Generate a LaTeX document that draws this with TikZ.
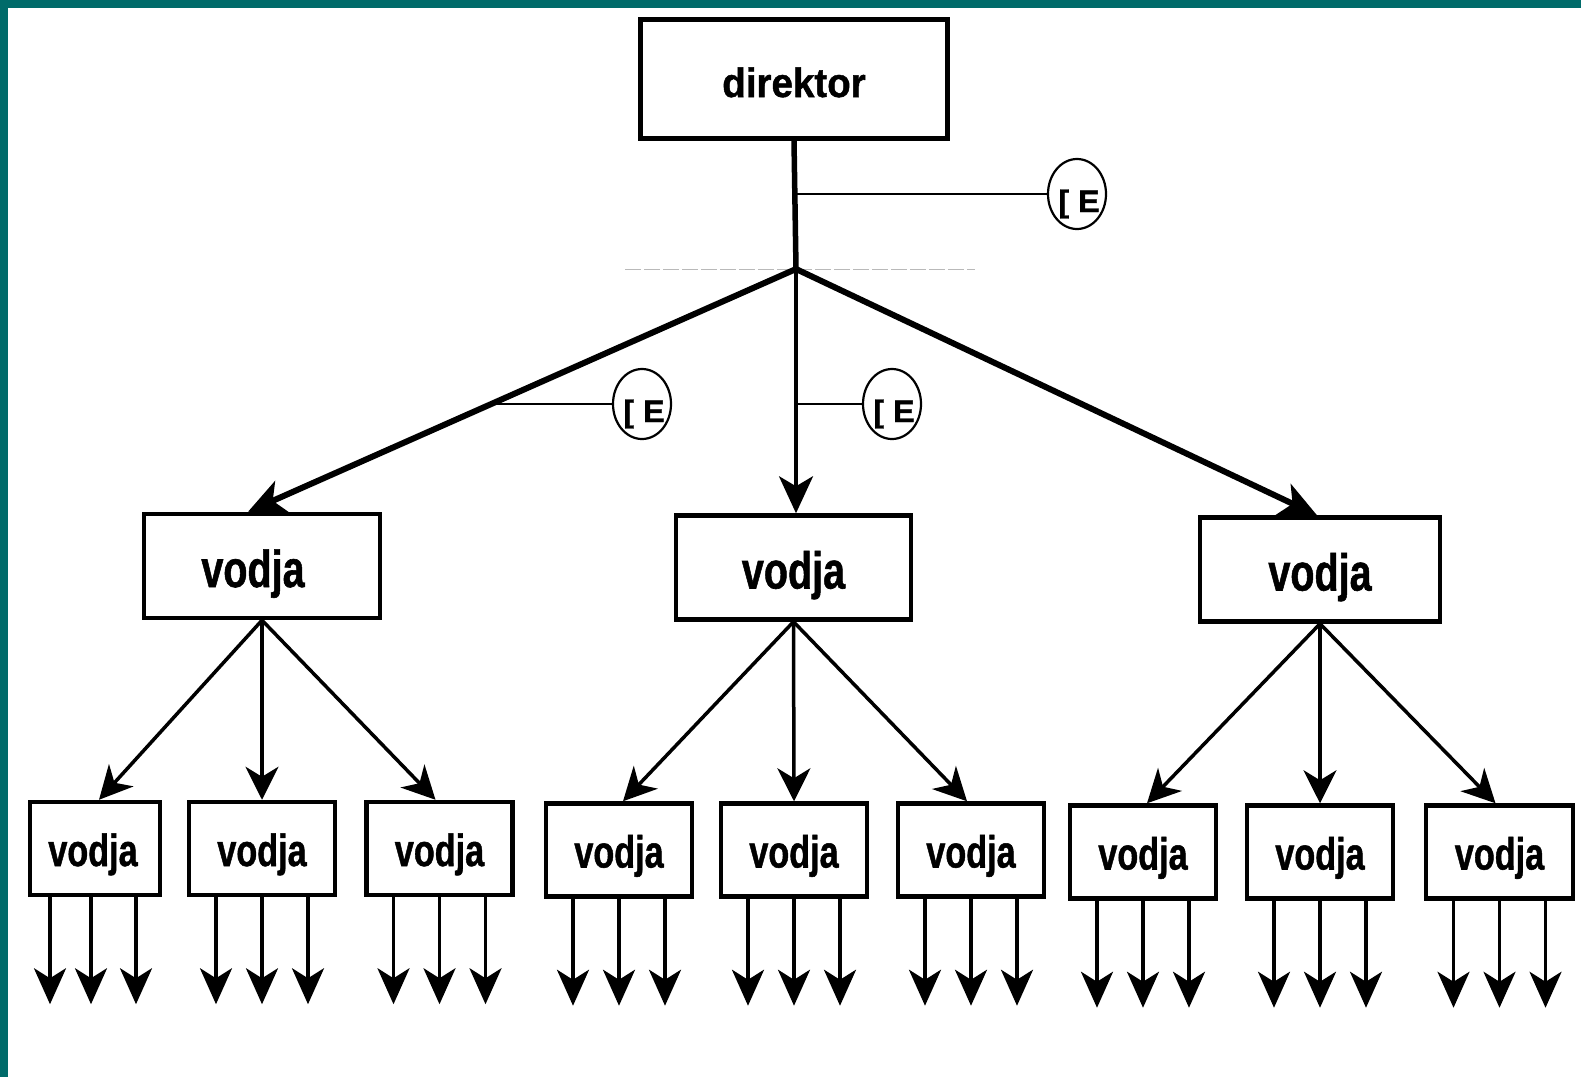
\documentclass[tikz,border=0pt]{standalone}
\usepackage{fontspec}
\setmainfont{Liberation Sans}
\newfontfamily\heavy[FakeBold=1.2]{Liberation Sans Bold}
\usepackage{graphicx}
\usetikzlibrary{arrows.meta,calc,shapes.geometric}
\definecolor{teal0}{RGB}{0,107,106}
% #1 x-scale, #2 size, #3 text, #4 baseline shift, #5 doubled horizontal shift
\newcommand{\sqtxt}[5]{\makebox[0pt]{\kern#5\raisebox{#4}[0pt][0pt]{\scalebox{#1}[1]{\fontsize{#2}{#2}\selectfont\heavy #3}}}}
\begin{document}
\begin{tikzpicture}[x=1pt,y=-1pt,
  box/.style={draw,line width=4.5pt,rectangle,inner sep=0pt},
  midbox/.style={box,minimum height=104pt},
  smallbox/.style={box,minimum height=93pt,minimum width=146pt},
  ebox/.style={draw,ellipse,line width=2.2pt,minimum width=58pt,minimum height=70pt,inner sep=0pt},
  toparr/.style={line width=6pt,-{Stealth[length=37pt,width=34pt,inset=10pt]}},
  midarr/.style={line width=3.5pt,-{Stealth[length=33pt,width=33pt,inset=10pt]}},
  botarr/.style={line width=3.5pt,-{Stealth[length=36pt,width=32pt,inset=10pt]}},
  branch/.style={line width=2.5pt}
]
\fill[teal0] (0,0) rectangle (1581,1077);
\fill[white] (8,8) rectangle (1581,1077);
\useasboundingbox (0,0) rectangle (1581,1077);

% director
\node[box,line width=5pt,minimum width=307pt,minimum height=119pt] (dir) at (794,79) {\sqtxt{0.94}{41}{direktor}{-18pt}{0pt}};

% E labels
\node[ebox] (e0) at (1077,194) {\sqtxt{1.04}{31}{[ E}{-18pt}{4pt}};
\node[ebox] (e1) at (642,404) {\sqtxt{1.04}{31}{[ E}{-18pt}{4pt}};
\node[ebox] (e2) at (892,404) {\sqtxt{1.04}{31}{[ E}{-18pt}{4pt}};

% middle level
\node[midbox,minimum width=236pt] (m1) at (262,566) {\sqtxt{0.76}{52}{vodja}{-21pt}{-18pt}};
\node[midbox,minimum width=235pt] (m2) at (793.5,567.5) {\sqtxt{0.76}{52}{vodja}{-21pt}{0pt}};
\node[midbox,minimum width=240pt] (m3) at (1320,569.5) {\sqtxt{0.76}{52}{vodja}{-21pt}{0pt}};

% bottom level
\node[smallbox,minimum width=130pt] (b1) at (95,848.5) {\sqtxt{0.76}{45}{vodja}{-17.5pt}{-4pt}};
\node[smallbox] (b2) at (262,848.5) {\sqtxt{0.76}{45}{vodja}{-17.5pt}{0pt}};
\node[smallbox] (b3) at (439.5,848.5) {\sqtxt{0.76}{45}{vodja}{-17.5pt}{0pt}};
\node[smallbox] (b4) at (619,850) {\sqtxt{0.76}{45}{vodja}{-17.5pt}{0pt}};
\node[smallbox] (b5) at (794,850) {\sqtxt{0.76}{45}{vodja}{-17.5pt}{0pt}};
\node[smallbox] (b6) at (971,850) {\sqtxt{0.76}{45}{vodja}{-17.5pt}{0pt}};
\node[smallbox] (b7) at (1143,852) {\sqtxt{0.76}{45}{vodja}{-17.5pt}{0pt}};
\node[smallbox] (b8) at (1320,852) {\sqtxt{0.76}{45}{vodja}{-17.5pt}{0pt}};
\node[smallbox,minimum width=147pt] (b9) at (1499.5,852) {\sqtxt{0.76}{45}{vodja}{-17.5pt}{0pt}};

% junction and faint line
\coordinate (j) at (796,269);
\draw[gray!55,line width=1pt,dash pattern=on 16pt off 3pt] (625,269) -- (975,269);

% director trunk
\draw[line width=5.5pt] (dir.south) -- (j);
\draw[branch] (dir.south |- e0.west) -- (e0.west);

% top arrows
\coordinate (t1) at ([xshift=-14pt]m1.north);
\coordinate (t3) at ([xshift=-3pt]m3.north);
\draw[toparr] (j) -- (t1);
\draw[line width=3.5pt,-{Stealth[length=37pt,width=34pt,inset=10pt]}] (j) -- (j |- m2.north);
\draw[toparr] (j) -- (t3);

% E branches
\coordinate (p1) at ($(j)!0.565!(t1)$);
\draw[branch] (e1.west -| p1) -- (e1.west);
\draw[branch] (e2.west -| j) -- (e2.west);

% middle to bottom arrows
\foreach \m/\a/\b/\c in {m1/b1/b2/b3, m2/b4/b5/b6, m3/b7/b8/b9}{
  \draw[midarr] (\m.south) -- ([xshift=4pt]\a.north);
  \draw[midarr] (\m.south) -- (\b.north);
  \draw[midarr] (\m.south) -- ([xshift=-4pt]\c.north);
}

% bottom outgoing arrows
\foreach \d in {-45,-4,41}{
  \draw[botarr] ([xshift=\d pt]b1.south) -- ([xshift=\d pt,yshift=-107pt]b1.south);
}
\foreach \i in {2,...,9}{
  \foreach \d in {-46,0,46}{
    \draw[botarr] ([xshift=\d pt]b\i.south) -- ([xshift=\d pt,yshift=-107pt]b\i.south);
  }
}
\end{tikzpicture}
\end{document}
